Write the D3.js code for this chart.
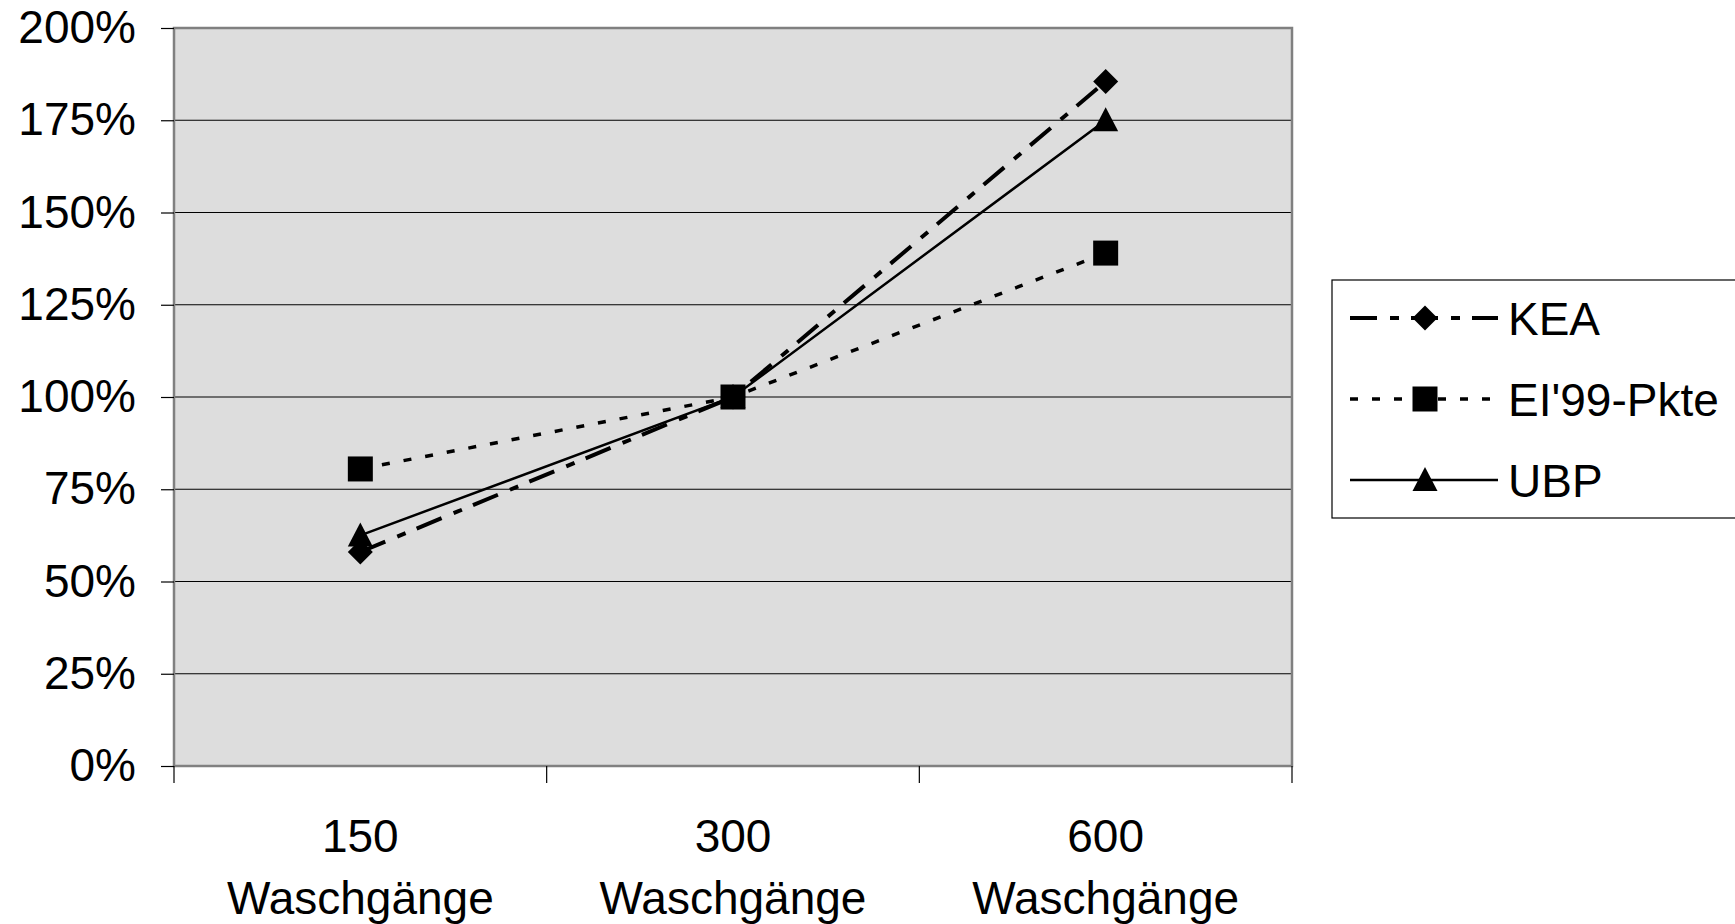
<!DOCTYPE html>
<html>
<head>
<meta charset="utf-8">
<script src="https://cdn.jsdelivr.net/npm/d3@7"></script>
<style>
  body { margin: 0; background: #fff; }
  text { font-family: "Liberation Sans", Arial, sans-serif; fill: #000; }
</style>
</head>
<body>
<svg id="chart" width="1735" height="924"></svg>
<script>
// data
var categories = ["150", "300", "600"];
var catUnit = "Waschgänge";
var kea = [0.58, 1.00, 1.855];
var ei99 = [0.805, 1.00, 1.39];
var ubp = [0.625, 1.00, 1.75];
var yTicks = [0, 0.25, 0.5, 0.75, 1, 1.25, 1.5, 1.75, 2];
var seriesNames = ["KEA", "EI'99-Pkte", "UBP"];

var svg = d3.select("#chart");
var plotLeft = 174, plotRight = 1292, plotTop = 28, plotBottom = 766;

var x = d3.scaleBand().domain(categories).range([plotLeft, plotRight]);
var y = d3.scaleLinear().domain([0, 2]).range([plotBottom, plotTop]);

var series = [
    { name: seriesNames[0], values: kea, dash: "27,13,9,12", width: 4, shape: "diamond" },
    { name: seriesNames[1], values: ei99, dash: "8,14", width: 3.5, shape: "square" },
    { name: seriesNames[2], values: ubp, dash: null, width: 2.5, shape: "triangle" }
];

// plot background
svg.append("rect")
    .attr("x", plotLeft).attr("y", plotTop)
    .attr("width", plotRight - plotLeft).attr("height", plotBottom - plotTop)
    .attr("fill", "#dddddd");

// gridlines
svg.append("g").selectAll("line")
    .data(yTicks.slice(1, -1))
    .enter().append("line")
    .attr("x1", plotLeft).attr("x2", plotRight)
    .attr("y1", function (d) { return y(d); })
    .attr("y2", function (d) { return y(d); })
    .attr("stroke", "#000").attr("stroke-width", 1.2);

// border
svg.append("rect")
    .attr("x", plotLeft).attr("y", plotTop)
    .attr("width", plotRight - plotLeft).attr("height", plotBottom - plotTop)
    .attr("fill", "none").attr("stroke", "#808080").attr("stroke-width", 2.5);

// y axis
var yAxis = d3.axisLeft(y).tickValues(yTicks).tickFormat(d3.format(".0%")).tickSize(13).tickPadding(25);
var gy = svg.append("g").attr("transform", "translate(" + plotLeft + ",0)").call(yAxis);
gy.select(".domain").remove();
gy.selectAll(".tick line").attr("stroke", "#000").attr("stroke-width", 1.2);
gy.selectAll(".tick text").attr("font-size", 46).attr("font-family", "Liberation Sans, Arial, sans-serif").attr("fill", "#000");

// x axis ticks on category boundaries
var bounds = categories.map(function (c) { return x(c); }).concat([x(categories[categories.length - 1]) + x.bandwidth()]);
svg.append("g").selectAll("line")
    .data(bounds)
    .enter().append("line")
    .attr("x1", function (d) { return d; }).attr("x2", function (d) { return d; })
    .attr("y1", plotBottom).attr("y2", plotBottom + 17)
    .attr("stroke", "#000").attr("stroke-width", 1.2);

var xl = svg.append("g").selectAll("text")
    .data(categories)
    .enter().append("text")
    .attr("x", function (d) { return x(d) + x.bandwidth() / 2; })
    .attr("text-anchor", "middle")
    .attr("font-size", 46);
xl.append("tspan")
    .attr("x", function (d) { return x(d) + x.bandwidth() / 2; })
    .attr("y", 852)
    .text(function (d) { return d; });
xl.append("tspan")
    .attr("x", function (d) { return x(d) + x.bandwidth() / 2; })
    .attr("y", 914)
    .text(catUnit);

function markerPath(shape) {
    if (shape === "diamond") return "M0,-12.5L12.5,0L0,12.5L-12.5,0Z";
    if (shape === "square") return "M-12.5,-12.5H12.5V12.5H-12.5Z";
    return "M0,-13L12.5,11L-12.5,11Z";
}

var line = d3.line()
    .x(function (d, i) { return x(categories[i]) + x.bandwidth() / 2; })
    .y(function (d) { return y(d); });

series.forEach(function (s) {
    svg.append("path")
        .attr("d", line(s.values))
        .attr("fill", "none")
        .attr("stroke", "#000")
        .attr("stroke-width", s.width)
        .attr("stroke-dasharray", s.dash);
    svg.append("g").selectAll("path")
        .data(s.values)
        .enter().append("path")
        .attr("transform", function (d, i) {
            return "translate(" + (x(categories[i]) + x.bandwidth() / 2) + "," + y(d) + ")";
        })
        .attr("d", markerPath(s.shape))
        .attr("fill", "#000");
});

// legend
var lg = svg.append("g");
lg.append("rect")
    .attr("x", 1332).attr("y", 280)
    .attr("width", 420).attr("height", 238)
    .attr("fill", "#fff").attr("stroke", "#000").attr("stroke-width", 1.2);

series.forEach(function (s, i) {
    var cy = 318 + i * 81;
    lg.append("line")
        .attr("x1", 1350).attr("x2", 1498)
        .attr("y1", cy).attr("y2", cy)
        .attr("stroke", "#000")
        .attr("stroke-width", s.width)
        .attr("stroke-dasharray", s.dash);
    lg.append("path")
        .attr("transform", "translate(1425," + cy + ")")
        .attr("d", markerPath(s.shape))
        .attr("fill", "#000");
    lg.append("text")
        .attr("x", 1508).attr("y", cy)
        .attr("dy", "0.36em")
        .attr("font-size", 46)
        .text(s.name);
});
</script>
</body>
</html>
